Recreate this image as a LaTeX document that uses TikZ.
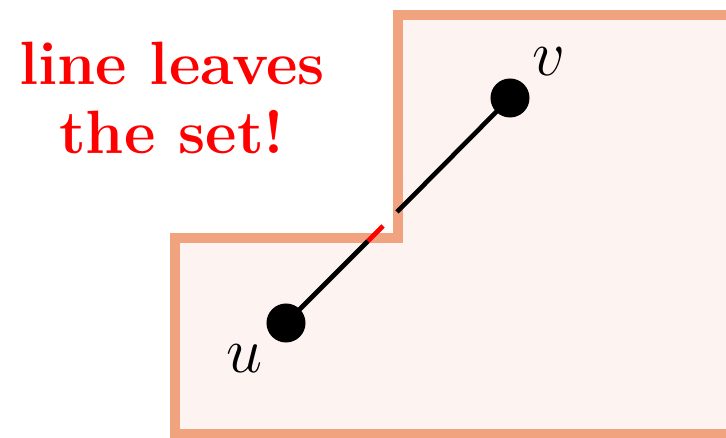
\RequirePackage{fix-cm}
\documentclass[tikz,border=0pt]{standalone}
\usepackage{amsmath,amssymb}
\usepackage{xcolor}
\usepackage{tikz}
\definecolor{setborder}{RGB}{241,163,128}
\definecolor{setfill}{RGB}{253,244,241}
\tikzstyle{region}  = [draw=setborder, fill=setfill, line width=0.25cm]
\tikzstyle{segment} = [line width=0.115cm]
\tikzstyle{pt}      = [circle, fill=black, inner sep=0pt, minimum size=0.975cm]
\tikzstyle{lbl}     = [inner sep=0pt, font=\fontsize{46}{52}\selectfont]
\tikzstyle{warn}    = [inner sep=0pt, align=center, text=red,
                       font=\fontsize{43.5}{49}\selectfont\bfseries]

\begin{document}
\begin{tikzpicture}[x=0.025cm, y=-0.025cm]
  \useasboundingbox (0,0) rectangle (726,438);
  \clip (0,0) rectangle (726,438);

  % the (non-convex) set
  \draw[region] (175,434) -- (175,238) -- (398,238) -- (398,15)
                -- (760,15) -- (760,434) -- cycle;

  \node[pt] (u) at (286,323) {};
  \node[pt] (v) at (510,98) {};
  \coordinate (a) at (368,241);
  \coordinate (m) at (383,226);
  \coordinate (b) at (397,212);

  \draw[segment] (u.center) -- (a);
  \draw[segment, red] (a) -- (m);
  \draw[segment] (b) -- (v.center);

  \node[lbl] (ulbl) at (245,359) {$u$};
  \node[lbl] (vlbl) at (549,62) {$v$};

  \node[warn, anchor=north] (note) at (172,42) {line leaves\\the set!};
\end{tikzpicture}
\end{document}
